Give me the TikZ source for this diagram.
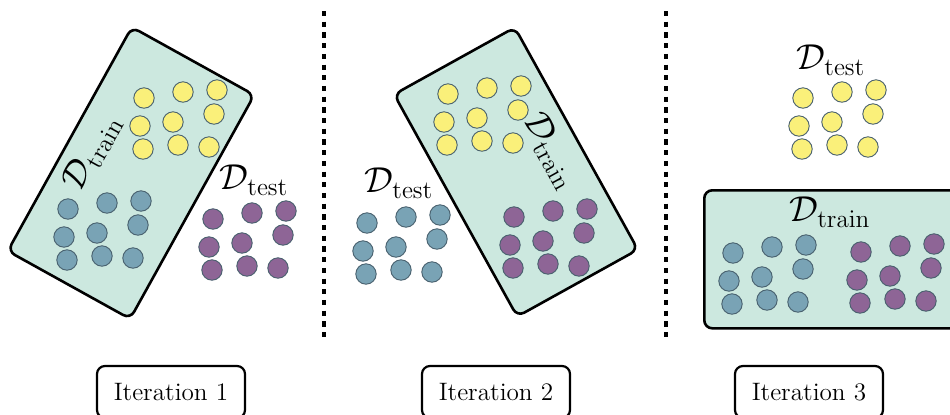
\documentclass[tikz,border=0pt]{standalone}
\usepackage{fix-cm}
\usepackage{amsmath}
\usepackage{tikz}

\definecolor{trainfill}{RGB}{204,232,223}
\definecolor{dotyellow}{RGB}{250,240,122}
\definecolor{dotblue}{RGB}{121,163,181}
\definecolor{dotpurple}{RGB}{142,101,150}
\definecolor{dotedge}{RGB}{72,96,110}

\tikzset{
  trainbox/.style={draw, fill=trainfill, line width=1.3pt, rounded corners=4pt},
  dotstyle/.style={draw=dotedge, line width=0.45pt},
  setlabel/.style={font=\fontsize{18}{22}\selectfont, inner sep=1pt},
  itbox/.style={draw, line width=1.1pt, rounded corners=4pt, minimum width=74pt,
    minimum height=26pt, font=\fontsize{12.6}{15}\selectfont},
  divider/.style={line width=1.75pt, dash pattern=on 2.6pt off 2.75pt}
}

% nine points, same layout for every group
\newcommand{\dotgroup}[3]{%
  \begin{scope}[shift={(#1,#2)}]
    \foreach \dx/\dy in {-34/-22,5/-28,39/-30,-38/6,-5/2,36/-6,-35/29,0/25,31/27}
      \draw[dotstyle, fill=#3] (\dx,\dy) circle (5.1pt);
  \end{scope}}

\begin{document}
\begin{tikzpicture}[x=0.5pt, y=-0.5pt]
    \useasboundingbox (0,0) rectangle (950,414);

    % training sets
    \node[trainbox, rotate=-29, minimum width=70pt, minimum height=128pt] (trainA) at (131,173) {};
    \node[trainbox, rotate=29, minimum width=69pt, minimum height=127pt] (trainB) at (516,172) {};
    \node[trainbox, anchor=north west, minimum width=140pt, minimum height=69pt] (trainC) at (703,189) {};

    % iteration 1
    \dotgroup{178}{120}{dotyellow}
    \dotgroup{102}{231}{dotblue}
    \dotgroup{247}{241}{dotpurple}
    % iteration 2
    \dotgroup{482}{116}{dotyellow}
    \dotgroup{401}{245}{dotblue}
    \dotgroup{548}{239}{dotpurple}
    % iteration 3
    \dotgroup{837}{120}{dotyellow}
    \dotgroup{767}{275}{dotblue}
    \dotgroup{895}{274}{dotpurple}

    \node[setlabel, rotate=61] (trainlabA) at (92,152) {$\mathcal{D}_{\mathrm{train}}$};
    \node[setlabel] (testlabA) at (254,180) {$\mathcal{D}_{\mathrm{test}}$};
    \node[setlabel, rotate=-61] (trainlabB) at (551,151) {$\mathcal{D}_{\mathrm{train}}$};
    \node[setlabel] (testlabB) at (399,183) {$\mathcal{D}_{\mathrm{test}}$};
    \node[setlabel] (trainlabC) at (830,212) {$\mathcal{D}_{\mathrm{train}}$};
    \node[setlabel] (testlabC) at (831,60) {$\mathcal{D}_{\mathrm{test}}$};

    \draw[divider] (324,11) -- (324,337);
    \draw[divider] (666,11) -- (666,337);

    \node[itbox] (iterA) at (171,392) {Iteration 1};
    \node[itbox] (iterB) at (496,392) {Iteration 2};
    \node[itbox] (iterC) at (809,392) {Iteration 3};
\end{tikzpicture}
\end{document}
